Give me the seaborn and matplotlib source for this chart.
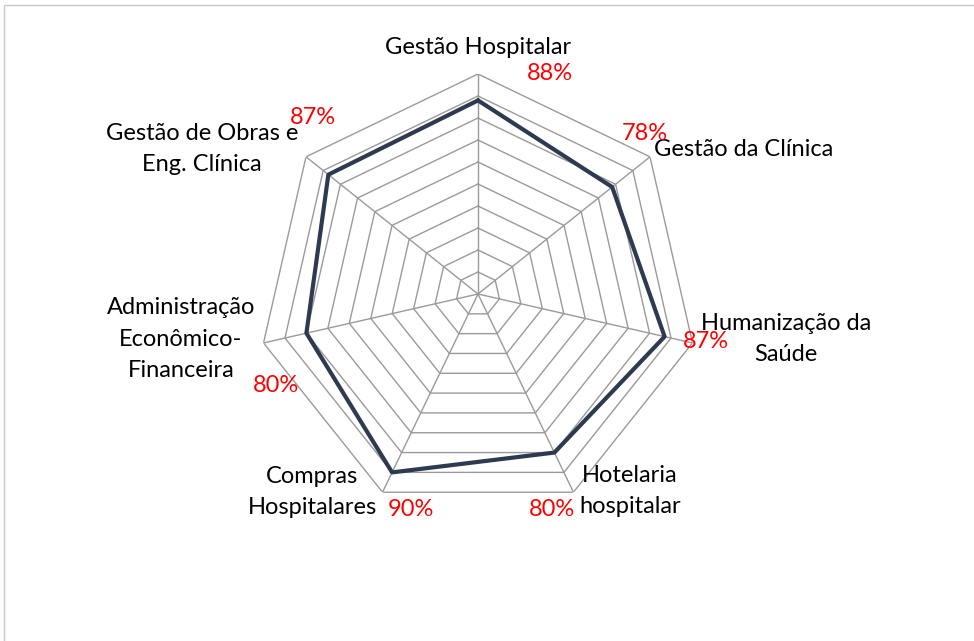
import numpy as np
import pandas as pd
import matplotlib
matplotlib.use("Agg")
import matplotlib.pyplot as plt
from matplotlib.patches import Rectangle
import seaborn as sns

# Data
categories = ["Gestão Hospitalar", "Gestão da Clínica", "Humanização da\nSaúde",
              "Hotelaria\nhospitalar", "Compras\nHospitalares",
              "Administração\nEconômico-\nFinanceira", "Gestão de Obras e\nEng. Clínica"]
values = [88, 78, 87, 80, 90, 80, 87]
rings = [0.1, 0.2, 0.3, 0.4, 0.5, 0.6, 0.7, 0.8, 0.9, 1.0]

sns.set_theme(style="white")
plt.rcParams["font.family"] = ["Lato", "DejaVu Sans"]

W, H = 974, 641
fig = plt.figure(figsize=(W / 100, H / 100), dpi=100)

def fx(px):
    return px / W

def fy(py):
    return 1 - py / H

cx, cy, R = 478, 294, 220
ax = fig.add_axes([fx(cx - R), fy(cy + R), 2 * R / W, 2 * R / H], projection="polar")
ax.set_theta_offset(np.pi / 2)
ax.set_theta_direction(-1)

n = len(categories)
angles = np.linspace(0, 2 * np.pi, n, endpoint=False)
closed = np.append(angles, angles[0])

grid_col = "#9a9a9a"
for r in rings:
    ax.plot(closed, [r] * (n + 1), color=grid_col, lw=1, zorder=1)
for a in angles:
    ax.plot([a, a], [0, 1], color=grid_col, lw=1, zorder=1)

df = pd.DataFrame({"angle": closed, "value": np.append(values, values[0]) / 100})
sns.lineplot(data=df, x="angle", y="value", ax=ax, sort=False, estimator=None,
             color="#2e3a4f", linewidth=3, zorder=3)

ax.set_ylim(0, 1)
ax.grid(False)
ax.set_xticks([])
ax.set_yticks([])
ax.set_xlabel("")
ax.set_ylabel("")
ax.spines["polar"].set_visible(False)
ax.patch.set_alpha(0)

# category labels (pixel positions from the reference)
fs = 17
lab_pos = [(478, 47, "center"), (654, 150, "left"), (786, 339, "center"),
           (630, 491, "center"), (312, 492, "center"), (181, 339, "center"),
           (202, 149, "center")]
for (x, y, ha), lab in zip(lab_pos, categories):
    fig.text(fx(x), fy(y), lab, ha=ha, va="center", fontsize=fs, color="black",
             linespacing=1.6)

pct_pos = [(550, 73), (645, 133), (706, 342), (552, 510), (411, 510), (276, 386), (313, 117)]
for (x, y), v in zip(pct_pos, values):
    fig.text(fx(x), fy(y), f"{v}%", ha="center", va="center", fontsize=fs, color="#ff0000")

# chart frame (only top and left edges visible)
fig.patches.append(Rectangle((fx(4), -0.2), 1.5, fy(5) + 0.2, transform=fig.transFigure,
                             fill=False, edgecolor="#c8c8c8", lw=1))

fig.savefig("out.png", dpi=100)
